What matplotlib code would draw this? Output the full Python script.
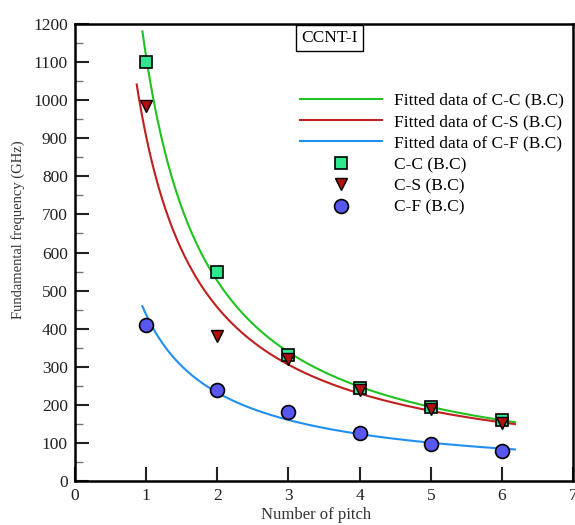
import matplotlib
matplotlib.use('Agg')
import matplotlib.pyplot as plt
import numpy as np

plt.rcParams['font.family'] = ['Liberation Serif', 'DejaVu Serif']

pitch = np.array([1, 2, 3, 4, 5, 6])
f_cc = np.array([1100, 550, 330, 245, 195, 160])
f_cs = np.array([985, 380, 320, 240, 188, 152])
f_cf = np.array([410, 238, 180, 127, 98, 78])

# fit ranges for the power-law curves
fit_range_cc = (0.95, 6.18)
fit_range_cs = (0.87, 6.18)
fit_range_cf = (0.95, 6.18)


def power_fit(x, y, lo, hi):
    b, ln_a = np.polyfit(np.log(x), np.log(y), 1)
    xs = np.linspace(lo, hi, 300)
    return xs, np.exp(ln_a) * xs ** b


fig = plt.figure(figsize=(5.75, 5.25), dpi=100)
ax = fig.add_axes([0.130, 0.084, 0.867, 0.870])

xs, ys = power_fit(pitch, f_cc, *fit_range_cc)
ax.plot(xs, ys, color='#1fc21f', lw=1.5, label='Fitted data of C-C (B.C)')
xs, ys = power_fit(pitch, f_cs, *fit_range_cs)
ax.plot(xs, ys, color='#c01f1f', lw=1.5, label='Fitted data of C-S (B.C)')
xs, ys = power_fit(pitch, f_cf, *fit_range_cf)
ax.plot(xs, ys, color='#1f8ff0', lw=1.5, label='Fitted data of C-F (B.C)')

ax.plot(pitch, f_cc, 's', ms=8, mfc='#2ee88f', mec='black', mew=1.2, ls='none', label='C-C (B.C)')
ax.plot(pitch, f_cs, 'v', ms=9, mfc='#b01010', mec='black', mew=1.0, ls='none', label='C-S (B.C)')
ax.plot(pitch, f_cf, 'o', ms=10, mfc='#5858f0', mec='black', mew=1.2, ls='none', label='C-F (B.C)')

ax.set_xlim(0, 7)
ax.set_ylim(0, 1200)
ax.set_xticks(range(0, 8))
ax.set_yticks(range(0, 1201, 100))
ax.set_yticks(range(50, 1200, 100), minor=True)
ax.tick_params(axis='both', which='major', direction='in', length=10, width=1.5,
               labelsize=12.5, colors='#222222', pad=5)
ax.tick_params(axis='y', which='minor', direction='in', length=6, width=1, color='#777777')
for sp in ax.spines.values():
    sp.set_linewidth(1.8)

ax.set_xlabel('Number of pitch', fontsize=12, color='#333333')
ax.xaxis.set_label_coords(0.484, -0.058)
ax.set_ylabel('Fundamental frequency (GHz)', fontsize=10.5, color='#333333')
ax.yaxis.set_label_coords(-0.10, 0.549)

ax.text(3.58, 1163, 'CCNT-I', fontsize=12.5, ha='center', va='center',
        bbox=dict(boxstyle='square,pad=0.3', fc='white', ec='black', lw=1))

ax.legend(loc='upper left', bbox_to_anchor=(0.452, 0.85), frameon=False, fontsize=12.5,
          handlelength=4.7, handletextpad=0.7, labelspacing=0.3, borderpad=0,
          borderaxespad=0)

fig.savefig('out.png', dpi=100)
